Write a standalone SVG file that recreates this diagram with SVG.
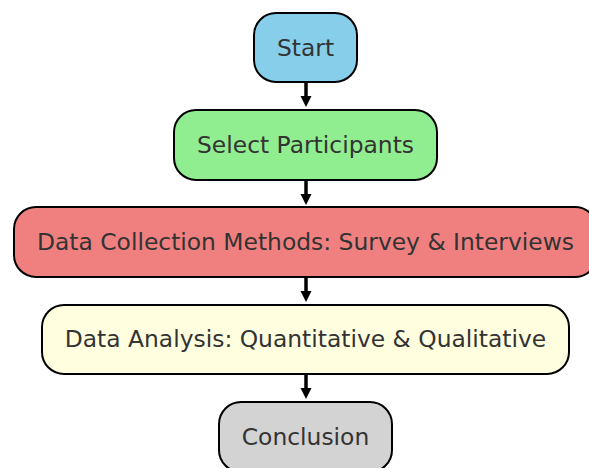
<svg xmlns="http://www.w3.org/2000/svg" width="589" height="468" viewBox="0 0 589 468">
  <style>
    .box { stroke: #000; stroke-width: 2; }
    .lbl { font-family: "DejaVu Sans", sans-serif; font-size: 23.4px; fill: #333; text-anchor: middle; }
    .shaft { stroke: #000; stroke-width: 3.5; fill: none; }
    .head { fill: #000; }
  </style>
  <defs>
    <!-- downward arrow: shaft from box bottom, head tip at y = 24 -->
    <g id="down-arrow">
      <line class="shaft" x1="0" y1="0" x2="0" y2="16"/>
      <path class="head" d="M-5.5,13 L5.5,13 L0,24 z"/>
    </g>
  </defs>
  <rect width="589" height="468" fill="#fff"/>

  <g id="connectors">
    <use href="#down-arrow" x="306" y="83"/>
    <use href="#down-arrow" x="306" y="181"/>
    <use href="#down-arrow" x="306" y="278"/>
    <use href="#down-arrow" x="306" y="375"/>
  </g>

  <g id="start">
    <rect class="box" x="254" y="13" width="103" height="69" rx="22" fill="#87ceeb"/>
    <text class="lbl" x="305.5" y="56">Start</text>
  </g>
  <g id="select-participants">
    <rect class="box" x="174" y="110" width="263" height="70" rx="22" fill="#90ee90"/>
    <text class="lbl" x="305.5" y="153">Select Participants</text>
  </g>
  <g id="data-collection">
    <rect class="box" x="14" y="207" width="583" height="70" rx="22" fill="#f08080"/>
    <text class="lbl" x="305.5" y="250">Data Collection Methods: Survey &amp; Interviews</text>
  </g>
  <g id="data-analysis">
    <rect class="box" x="42" y="305" width="527" height="69" rx="22" fill="#ffffe0"/>
    <text class="lbl" x="305.5" y="347">Data Analysis: Quantitative &amp; Qualitative</text>
  </g>
  <g id="conclusion">
    <rect class="box" x="219" y="402" width="173" height="70" rx="22" fill="#d3d3d3"/>
    <text class="lbl" x="305.5" y="445">Conclusion</text>
  </g>
</svg>
